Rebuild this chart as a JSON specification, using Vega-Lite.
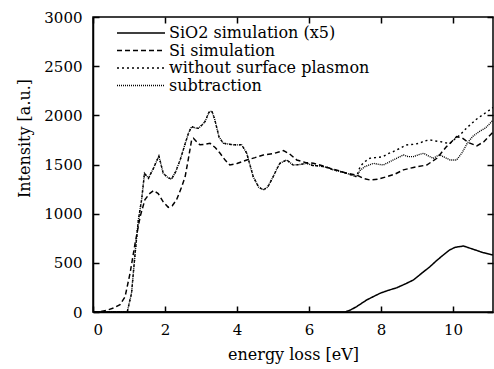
{
  "$schema": "https://vega.github.io/schema/vega-lite/v6.json",
  "autosize": {"type": "none"},
  "padding": {"left": 93, "top": 17, "right": 1, "bottom": 57},
  "width": 400,
  "height": 295,
  "background": "white",
  "config": {
    "font": "DejaVu Serif",
    "view": {"stroke": "black", "strokeWidth": 1.5},
    "axis": {
      "labelFont": "DejaVu Serif",
      "titleFont": "DejaVu Serif",
      "labelColor": "black",
      "titleColor": "black",
      "labelFontSize": 15,
      "titleFontSize": 16,
      "titleFontWeight": "normal",
      "grid": false,
      "domainColor": "black",
      "domainWidth": 1.5,
      "tickColor": "black",
      "tickWidth": 1.5,
      "tickSize": -6
    },
    "legend": {
      "labelFont": "DejaVu Serif",
      "labelFontSize": 16,
      "labelColor": "black",
      "labelLimit": 400
    }
  },
  "data": {
    "values": [
      {"s": "SiO2 simulation (x5)", "x": 0, "y": 0},
      {"s": "SiO2 simulation (x5)", "x": 7.0, "y": 0},
      {"s": "SiO2 simulation (x5)", "x": 7.15, "y": 20},
      {"s": "SiO2 simulation (x5)", "x": 7.32, "y": 54},
      {"s": "SiO2 simulation (x5)", "x": 7.6, "y": 122},
      {"s": "SiO2 simulation (x5)", "x": 7.97, "y": 190},
      {"s": "SiO2 simulation (x5)", "x": 8.2, "y": 220},
      {"s": "SiO2 simulation (x5)", "x": 8.44, "y": 247},
      {"s": "SiO2 simulation (x5)", "x": 8.7, "y": 290},
      {"s": "SiO2 simulation (x5)", "x": 8.9, "y": 326},
      {"s": "SiO2 simulation (x5)", "x": 9.15, "y": 400},
      {"s": "SiO2 simulation (x5)", "x": 9.36, "y": 461},
      {"s": "SiO2 simulation (x5)", "x": 9.55, "y": 525},
      {"s": "SiO2 simulation (x5)", "x": 9.73, "y": 580},
      {"s": "SiO2 simulation (x5)", "x": 9.9, "y": 630},
      {"s": "SiO2 simulation (x5)", "x": 10.06, "y": 658},
      {"s": "SiO2 simulation (x5)", "x": 10.29, "y": 671},
      {"s": "SiO2 simulation (x5)", "x": 10.56, "y": 638},
      {"s": "SiO2 simulation (x5)", "x": 10.84, "y": 603},
      {"s": "SiO2 simulation (x5)", "x": 11.11, "y": 580},

      {"s": "Si simulation", "x": 0, "y": 0},
      {"s": "Si simulation", "x": 0.2, "y": 5},
      {"s": "Si simulation", "x": 0.4, "y": 20},
      {"s": "Si simulation", "x": 0.6, "y": 45},
      {"s": "Si simulation", "x": 0.75, "y": 75},
      {"s": "Si simulation", "x": 0.89, "y": 155},
      {"s": "Si simulation", "x": 1.03, "y": 395},
      {"s": "Si simulation", "x": 1.17, "y": 700},
      {"s": "Si simulation", "x": 1.31, "y": 970},
      {"s": "Si simulation", "x": 1.44, "y": 1140},
      {"s": "Si simulation", "x": 1.56, "y": 1200},
      {"s": "Si simulation", "x": 1.68, "y": 1235},
      {"s": "Si simulation", "x": 1.81, "y": 1205},
      {"s": "Si simulation", "x": 1.95, "y": 1120},
      {"s": "Si simulation", "x": 2.09, "y": 1065},
      {"s": "Si simulation", "x": 2.2, "y": 1080},
      {"s": "Si simulation", "x": 2.32, "y": 1140},
      {"s": "Si simulation", "x": 2.45, "y": 1260},
      {"s": "Si simulation", "x": 2.56, "y": 1377},
      {"s": "Si simulation", "x": 2.65, "y": 1560},
      {"s": "Si simulation", "x": 2.74, "y": 1750},
      {"s": "Si simulation", "x": 2.79, "y": 1767},
      {"s": "Si simulation", "x": 2.88, "y": 1730},
      {"s": "Si simulation", "x": 2.97, "y": 1700},
      {"s": "Si simulation", "x": 3.1, "y": 1705},
      {"s": "Si simulation", "x": 3.25, "y": 1716},
      {"s": "Si simulation", "x": 3.4, "y": 1670},
      {"s": "Si simulation", "x": 3.53, "y": 1614},
      {"s": "Si simulation", "x": 3.67, "y": 1545},
      {"s": "Si simulation", "x": 3.8, "y": 1495},
      {"s": "Si simulation", "x": 4.0, "y": 1510},
      {"s": "Si simulation", "x": 4.27, "y": 1546},
      {"s": "Si simulation", "x": 4.5, "y": 1570},
      {"s": "Si simulation", "x": 4.73, "y": 1597},
      {"s": "Si simulation", "x": 5.0, "y": 1610},
      {"s": "Si simulation", "x": 5.29, "y": 1641},
      {"s": "Si simulation", "x": 5.45, "y": 1610},
      {"s": "Si simulation", "x": 5.66, "y": 1546},
      {"s": "Si simulation", "x": 5.9, "y": 1520},
      {"s": "Si simulation", "x": 6.12, "y": 1512},
      {"s": "Si simulation", "x": 6.35, "y": 1490},
      {"s": "Si simulation", "x": 6.58, "y": 1462},
      {"s": "Si simulation", "x": 6.8, "y": 1440},
      {"s": "Si simulation", "x": 7.05, "y": 1410},
      {"s": "Si simulation", "x": 7.32, "y": 1393},
      {"s": "Si simulation", "x": 7.5, "y": 1360},
      {"s": "Si simulation", "x": 7.69, "y": 1343},
      {"s": "Si simulation", "x": 7.9, "y": 1350},
      {"s": "Si simulation", "x": 8.16, "y": 1376},
      {"s": "Si simulation", "x": 8.4, "y": 1405},
      {"s": "Si simulation", "x": 8.62, "y": 1445},
      {"s": "Si simulation", "x": 8.9, "y": 1470},
      {"s": "Si simulation", "x": 9.27, "y": 1495},
      {"s": "Si simulation", "x": 9.55, "y": 1563},
      {"s": "Si simulation", "x": 9.82, "y": 1682},
      {"s": "Si simulation", "x": 10.1, "y": 1783},
      {"s": "Si simulation", "x": 10.25, "y": 1770},
      {"s": "Si simulation", "x": 10.45, "y": 1720},
      {"s": "Si simulation", "x": 10.66, "y": 1690},
      {"s": "Si simulation", "x": 10.85, "y": 1730},
      {"s": "Si simulation", "x": 11.11, "y": 1830},

      {"s": "without surface plasmon", "x": 0, "y": 0},
      {"s": "without surface plasmon", "x": 0.95, "y": 0},
      {"s": "without surface plasmon", "x": 1.07, "y": 190},
      {"s": "without surface plasmon", "x": 1.17, "y": 600},
      {"s": "without surface plasmon", "x": 1.26, "y": 935},
      {"s": "without surface plasmon", "x": 1.35, "y": 1140},
      {"s": "without surface plasmon", "x": 1.43, "y": 1410},
      {"s": "without surface plasmon", "x": 1.54, "y": 1360},
      {"s": "without surface plasmon", "x": 1.68, "y": 1462},
      {"s": "without surface plasmon", "x": 1.83, "y": 1587},
      {"s": "without surface plasmon", "x": 1.95, "y": 1410},
      {"s": "without surface plasmon", "x": 2.07, "y": 1370},
      {"s": "without surface plasmon", "x": 2.18, "y": 1350},
      {"s": "without surface plasmon", "x": 2.3, "y": 1430},
      {"s": "without surface plasmon", "x": 2.42, "y": 1546},
      {"s": "without surface plasmon", "x": 2.55, "y": 1700},
      {"s": "without surface plasmon", "x": 2.65, "y": 1817},
      {"s": "without surface plasmon", "x": 2.74, "y": 1885},
      {"s": "without surface plasmon", "x": 2.85, "y": 1870},
      {"s": "without surface plasmon", "x": 2.93, "y": 1869},
      {"s": "without surface plasmon", "x": 3.02, "y": 1900},
      {"s": "without surface plasmon", "x": 3.11, "y": 1936},
      {"s": "without surface plasmon", "x": 3.22, "y": 2030},
      {"s": "without surface plasmon", "x": 3.3, "y": 2045},
      {"s": "without surface plasmon", "x": 3.38, "y": 1960},
      {"s": "without surface plasmon", "x": 3.5, "y": 1780},
      {"s": "without surface plasmon", "x": 3.62, "y": 1716},
      {"s": "without surface plasmon", "x": 3.9, "y": 1700},
      {"s": "without surface plasmon", "x": 4.13, "y": 1700},
      {"s": "without surface plasmon", "x": 4.27, "y": 1614},
      {"s": "without surface plasmon", "x": 4.45, "y": 1376},
      {"s": "without surface plasmon", "x": 4.6, "y": 1270},
      {"s": "without surface plasmon", "x": 4.73, "y": 1241},
      {"s": "without surface plasmon", "x": 4.85, "y": 1270},
      {"s": "without surface plasmon", "x": 4.96, "y": 1343},
      {"s": "without surface plasmon", "x": 5.1, "y": 1450},
      {"s": "without surface plasmon", "x": 5.19, "y": 1512},
      {"s": "without surface plasmon", "x": 5.38, "y": 1546},
      {"s": "without surface plasmon", "x": 5.56, "y": 1495},
      {"s": "without surface plasmon", "x": 5.75, "y": 1500},
      {"s": "without surface plasmon", "x": 5.94, "y": 1512},
      {"s": "without surface plasmon", "x": 6.1, "y": 1490},
      {"s": "without surface plasmon", "x": 6.3, "y": 1485},
      {"s": "without surface plasmon", "x": 6.5, "y": 1470},
      {"s": "without surface plasmon", "x": 6.68, "y": 1445},
      {"s": "without surface plasmon", "x": 6.85, "y": 1430},
      {"s": "without surface plasmon", "x": 7.05, "y": 1410},
      {"s": "without surface plasmon", "x": 7.2, "y": 1390},
      {"s": "without surface plasmon", "x": 7.32, "y": 1376},
      {"s": "without surface plasmon", "x": 7.42, "y": 1480},
      {"s": "without surface plasmon", "x": 7.55, "y": 1529},
      {"s": "without surface plasmon", "x": 7.69, "y": 1563},
      {"s": "without surface plasmon", "x": 7.85, "y": 1570},
      {"s": "without surface plasmon", "x": 8.06, "y": 1580},
      {"s": "without surface plasmon", "x": 8.2, "y": 1610},
      {"s": "without surface plasmon", "x": 8.34, "y": 1631},
      {"s": "without surface plasmon", "x": 8.5, "y": 1660},
      {"s": "without surface plasmon", "x": 8.71, "y": 1699},
      {"s": "without surface plasmon", "x": 8.9, "y": 1705},
      {"s": "without surface plasmon", "x": 9.08, "y": 1716},
      {"s": "without surface plasmon", "x": 9.2, "y": 1740},
      {"s": "without surface plasmon", "x": 9.36, "y": 1750},
      {"s": "without surface plasmon", "x": 9.5, "y": 1740},
      {"s": "without surface plasmon", "x": 9.64, "y": 1733},
      {"s": "without surface plasmon", "x": 9.8, "y": 1720},
      {"s": "without surface plasmon", "x": 9.92, "y": 1716},
      {"s": "without surface plasmon", "x": 10.05, "y": 1760},
      {"s": "without surface plasmon", "x": 10.19, "y": 1800},
      {"s": "without surface plasmon", "x": 10.35, "y": 1860},
      {"s": "without surface plasmon", "x": 10.47, "y": 1902},
      {"s": "without surface plasmon", "x": 10.65, "y": 1960},
      {"s": "without surface plasmon", "x": 10.84, "y": 2010},
      {"s": "without surface plasmon", "x": 11.0, "y": 2050},
      {"s": "without surface plasmon", "x": 11.11, "y": 2080},

      {"s": "subtraction", "x": 0, "y": 0},
      {"s": "subtraction", "x": 0.95, "y": 0},
      {"s": "subtraction", "x": 1.07, "y": 190},
      {"s": "subtraction", "x": 1.17, "y": 600},
      {"s": "subtraction", "x": 1.26, "y": 935},
      {"s": "subtraction", "x": 1.35, "y": 1140},
      {"s": "subtraction", "x": 1.43, "y": 1410},
      {"s": "subtraction", "x": 1.54, "y": 1360},
      {"s": "subtraction", "x": 1.68, "y": 1462},
      {"s": "subtraction", "x": 1.83, "y": 1587},
      {"s": "subtraction", "x": 1.95, "y": 1410},
      {"s": "subtraction", "x": 2.07, "y": 1370},
      {"s": "subtraction", "x": 2.18, "y": 1350},
      {"s": "subtraction", "x": 2.3, "y": 1430},
      {"s": "subtraction", "x": 2.42, "y": 1546},
      {"s": "subtraction", "x": 2.55, "y": 1700},
      {"s": "subtraction", "x": 2.65, "y": 1817},
      {"s": "subtraction", "x": 2.74, "y": 1885},
      {"s": "subtraction", "x": 2.85, "y": 1870},
      {"s": "subtraction", "x": 2.93, "y": 1869},
      {"s": "subtraction", "x": 3.02, "y": 1900},
      {"s": "subtraction", "x": 3.11, "y": 1936},
      {"s": "subtraction", "x": 3.22, "y": 2030},
      {"s": "subtraction", "x": 3.3, "y": 2045},
      {"s": "subtraction", "x": 3.38, "y": 1960},
      {"s": "subtraction", "x": 3.5, "y": 1780},
      {"s": "subtraction", "x": 3.62, "y": 1716},
      {"s": "subtraction", "x": 3.9, "y": 1700},
      {"s": "subtraction", "x": 4.13, "y": 1700},
      {"s": "subtraction", "x": 4.27, "y": 1614},
      {"s": "subtraction", "x": 4.45, "y": 1376},
      {"s": "subtraction", "x": 4.6, "y": 1270},
      {"s": "subtraction", "x": 4.73, "y": 1241},
      {"s": "subtraction", "x": 4.85, "y": 1270},
      {"s": "subtraction", "x": 4.96, "y": 1343},
      {"s": "subtraction", "x": 5.1, "y": 1450},
      {"s": "subtraction", "x": 5.19, "y": 1512},
      {"s": "subtraction", "x": 5.38, "y": 1546},
      {"s": "subtraction", "x": 5.56, "y": 1495},
      {"s": "subtraction", "x": 5.75, "y": 1500},
      {"s": "subtraction", "x": 5.94, "y": 1512},
      {"s": "subtraction", "x": 6.1, "y": 1490},
      {"s": "subtraction", "x": 6.3, "y": 1485},
      {"s": "subtraction", "x": 6.5, "y": 1470},
      {"s": "subtraction", "x": 6.68, "y": 1445},
      {"s": "subtraction", "x": 6.85, "y": 1430},
      {"s": "subtraction", "x": 7.05, "y": 1410},
      {"s": "subtraction", "x": 7.2, "y": 1390},
      {"s": "subtraction", "x": 7.32, "y": 1376},
      {"s": "subtraction", "x": 7.42, "y": 1440},
      {"s": "subtraction", "x": 7.55, "y": 1478},
      {"s": "subtraction", "x": 7.79, "y": 1512},
      {"s": "subtraction", "x": 7.95, "y": 1500},
      {"s": "subtraction", "x": 8.06, "y": 1495},
      {"s": "subtraction", "x": 8.2, "y": 1520},
      {"s": "subtraction", "x": 8.34, "y": 1546},
      {"s": "subtraction", "x": 8.5, "y": 1575},
      {"s": "subtraction", "x": 8.62, "y": 1597},
      {"s": "subtraction", "x": 8.75, "y": 1580},
      {"s": "subtraction", "x": 8.9, "y": 1580},
      {"s": "subtraction", "x": 9.05, "y": 1600},
      {"s": "subtraction", "x": 9.18, "y": 1614},
      {"s": "subtraction", "x": 9.3, "y": 1590},
      {"s": "subtraction", "x": 9.45, "y": 1563},
      {"s": "subtraction", "x": 9.55, "y": 1585},
      {"s": "subtraction", "x": 9.64, "y": 1597},
      {"s": "subtraction", "x": 9.78, "y": 1570},
      {"s": "subtraction", "x": 9.92, "y": 1546},
      {"s": "subtraction", "x": 10.1, "y": 1546},
      {"s": "subtraction", "x": 10.25, "y": 1620},
      {"s": "subtraction", "x": 10.4, "y": 1720},
      {"s": "subtraction", "x": 10.56, "y": 1790},
      {"s": "subtraction", "x": 10.75, "y": 1840},
      {"s": "subtraction", "x": 10.9, "y": 1870},
      {"s": "subtraction", "x": 11.11, "y": 1950}
    ]
  },
  "layer": [
    {
      "mark": {"type": "line", "color": "black", "clip": true},
      "encoding": {
        "x": {
          "field": "x", "type": "quantitative",
          "scale": {"domain": [0, 11.11], "nice": false, "zero": false},
          "axis": {"orient": "bottom", "values": [0, 2, 4, 6, 8, 10], "format": "d", "labelFont": "DejaVu Serif", "labelFontSize": 15, "title": "energy loss [eV]", "labelPadding": 16, "titlePadding": 9}
        },
        "y": {
          "field": "y", "type": "quantitative",
          "scale": {"domain": [0, 3000], "nice": false},
          "axis": {"orient": "left", "values": [0, 500, 1000, 1500, 2000, 2500, 3000], "format": "d", "labelFont": "DejaVu Serif", "labelFontSize": 15, "title": "Intensity [a.u.]", "labelPadding": 17, "titleX": -69, "titleY": 121, "titleAngle": -90, "titleAlign": "center", "titleBaseline": "middle"}
        },
        "strokeDash": {
          "field": "s", "type": "nominal",
          "scale": {
            "domain": ["SiO2 simulation (x5)", "Si simulation", "without surface plasmon", "subtraction"],
            "range": [[1, 0], [5, 3], [2, 3], [1, 1]]
          },
          "legend": {
            "title": null,
            "orient": "none",
            "legendX": 40,
            "legendY": 8,
            "symbolType": "M-4,0H4",
            "symbolSize": 144,
            "symbolStrokeColor": "black",
            "symbolStrokeWidth": 1.3,
            "labelOffset": 20,
            "labelFont": "DejaVu Serif",
            "labelFontSize": 16,
            "labelLimit": 400,
            "rowPadding": 1.5,
            "padding": 0
          }
        },
        "strokeWidth": {
          "field": "s", "type": "nominal",
          "scale": {
            "domain": ["SiO2 simulation (x5)", "Si simulation", "without surface plasmon", "subtraction"],
            "range": [1.5, 1.4, 1.5, 0.9]
          },
          "legend": null
        }
      }
    },
    {
      "mark": {"type": "line", "opacity": 0},
      "encoding": {
        "x": {"field": "x", "type": "quantitative", "axis": {"orient": "top", "values": [0, 2, 4, 6, 8, 10], "labels": false, "title": null, "domain": false}},
        "y": {"field": "y", "type": "quantitative", "axis": {"orient": "right", "values": [0, 500, 1000, 1500, 2000, 2500, 3000], "labels": false, "title": null, "domain": false}},
        "detail": {"field": "s"}
      }
    }
  ],
  "resolve": {"axis": {"x": "independent", "y": "independent"}}
}
